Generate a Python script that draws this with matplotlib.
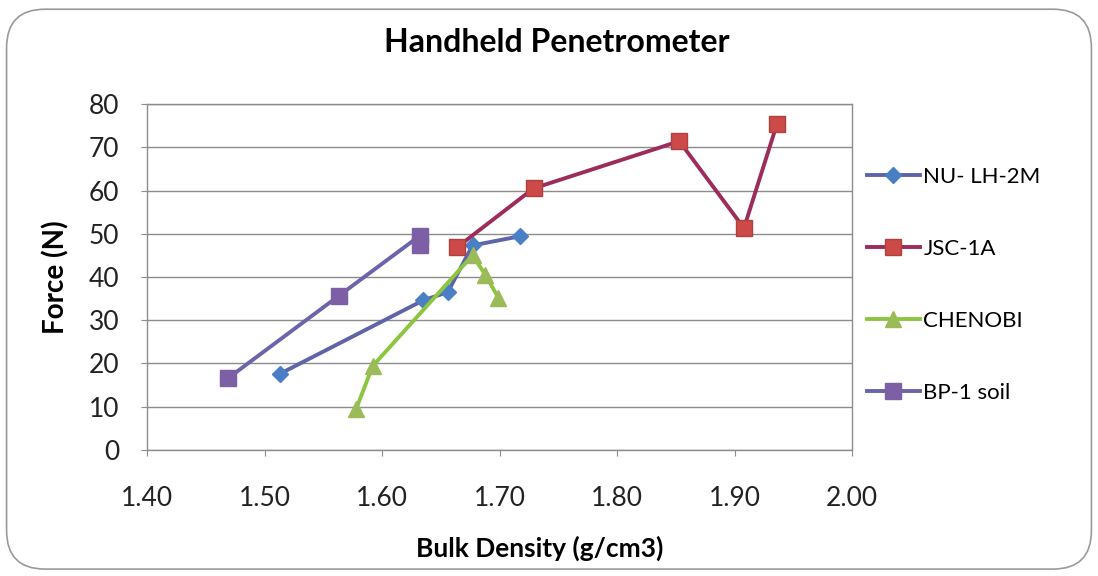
import matplotlib.pyplot as plt
from matplotlib.patches import FancyBboxPatch

# data
nu_x = [1.513, 1.635, 1.656, 1.677, 1.717]
nu_y = [17.6, 34.6, 36.5, 47.3, 49.4]

jsc_x = [1.664, 1.729, 1.853, 1.908, 1.936]
jsc_y = [46.9, 60.5, 71.4, 51.3, 75.3]

chen_x = [1.578, 1.592, 1.677, 1.688, 1.699]
chen_y = [9.5, 19.4, 45.0, 40.5, 35.2]

bp_x = [1.469, 1.563, 1.632, 1.632]
bp_y = [16.6, 35.6, 49.5, 47.5]

x_ticks = [1.40, 1.50, 1.60, 1.70, 1.80, 1.90, 2.00]
y_ticks = [0, 10, 20, 30, 40, 50, 60, 70, 80]

plt.rcParams['font.family'] = ['Lato', 'DejaVu Sans']

fig = plt.figure(figsize=(10.98, 5.76), dpi=100)

# rounded chart frame, kept behind the axes
frame = FancyBboxPatch((0.006, 0.012), 0.988, 0.972, boxstyle="round,pad=0,rounding_size=0.035",
                       transform=fig.transFigure, facecolor='white', edgecolor='#9a9a9a',
                       linewidth=1.2, mutation_aspect=1098 / 576, zorder=-1)
fig.patches.append(frame)

ax = fig.add_axes([0.1339, 0.2188, 0.6421, 0.6006])
ax.set_facecolor('none')

ax.plot(nu_x, nu_y, color='#5f63a8', linewidth=2.8, marker='D', markersize=8,
        markerfacecolor='#4a7fc6', markeredgecolor='#4a7fc6', label='NU- LH-2M', zorder=3)
ax.plot(jsc_x, jsc_y, color='#9c2c5c', linewidth=2.8, marker='s', markersize=11,
        markerfacecolor='#cc4a47', markeredgecolor='#b04040', label='JSC-1A', zorder=3)
ax.plot(chen_x, chen_y, color='#8cc63f', linewidth=2.8, marker='^', markersize=11,
        markerfacecolor='#9bbb59', markeredgecolor='#9bbb59', label='CHENOBI', zorder=4)
ax.plot(bp_x, bp_y, color='#6a64aa', linewidth=2.8, marker='s', markersize=11,
        markerfacecolor='#7d5fa5', markeredgecolor='#7d5fa5', label='BP-1 soil', zorder=3)

ax.set_xlim(1.40, 2.00)
ax.set_ylim(0, 80)
ax.set_xticks(x_ticks)
ax.set_xticklabels(['%.2f' % v for v in x_ticks])
ax.set_yticks(y_ticks)
ax.tick_params(axis='both', labelsize=19, length=4, color='#8c8c8c', labelcolor='#222222')
ax.tick_params(axis='y', pad=16)
ax.tick_params(axis='x', pad=22)
ax.yaxis.grid(True, color='#8c8c8c', linewidth=1.0)
ax.set_axisbelow(True)
for sp in ax.spines.values():
    sp.set_color('#8c8c8c')
    sp.set_linewidth(1.0)

fig.text(557 / 1098, 1 - 43 / 576, 'Handheld Penetrometer', fontsize=23, fontweight='bold',
         ha='center', va='center')
ax.set_xlabel('Bulk Density (g/cm3)', fontsize=19, fontweight='bold')
ax.xaxis.set_label_coords(0.557, -0.248)
ax.set_ylabel('Force (N)', fontsize=20, fontweight='bold', labelpad=14)

leg = ax.legend(loc='upper left', bbox_to_anchor=(1.008, 0.845), frameon=False, fontsize=16,
                handlelength=2.4, handletextpad=0.15, labelspacing=2.35, borderaxespad=0)

fig.savefig('out.png', dpi=100)
